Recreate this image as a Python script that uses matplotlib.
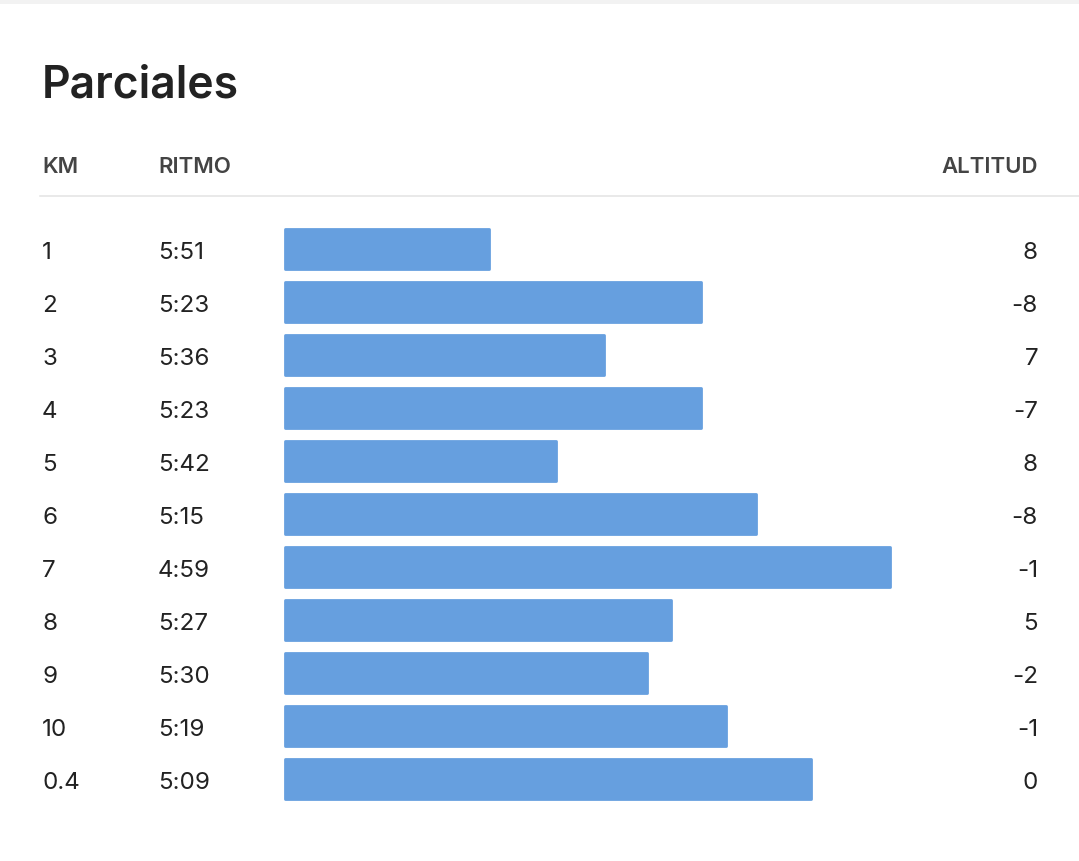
import matplotlib
matplotlib.use("Agg")
import matplotlib.pyplot as plt
from matplotlib.transforms import blended_transform_factory, ScaledTranslation
from matplotlib.patches import Rectangle
from matplotlib.lines import Line2D

plt.rcParams['font.family'] = ['Inter', 'DejaVu Sans']

# datos de los parciales
km_labels = ["1", "2", "3", "4", "5", "6", "7", "8", "9", "10", "0.4"]
ritmo = ["5:51", "5:23", "5:36", "5:23", "5:42", "5:15", "4:59", "5:27", "5:30", "5:19", "5:09"]
# longitud relativa de cada barra
barra = [206, 418, 321, 418, 273, 473, 607, 388, 364, 443, 528]
altitud = [8, -8, 7, -7, 8, -8, -1, 5, -2, -1, 0]

W, H = 1079, 862
DPI = 100
BAR_COLOR = "#669fdf"
TXT = "#222222"

fig = plt.figure(figsize=(W / DPI, H / DPI), dpi=DPI)
fig.patch.set_facecolor("white")

# franja gris de arriba
fig.patches.append(Rectangle((0, 1 - 5 / H), 1, 5 / H, transform=fig.transFigure,
                             facecolor="#f2f2f2", edgecolor="none"))

# titulo y cabeceras
fig.text(42 / W, 1 - 98 / H, "Parciales", fontsize=32, fontweight="semibold",
         color=TXT, va="baseline", ha="left")
for x, lab, ha in [(42, "KM", "left"), (158, "RITMO", "left"), (1038, "ALTITUD", "right")]:
    fig.text(x / W, 1 - 173.3 / H, lab, fontsize=16, fontweight="semibold",
             color="#444444", va="baseline", ha=ha)
fig.lines.append(Line2D([40 / W, 1], [1 - 196.5 / H] * 2, transform=fig.transFigure,
                        color="#e3e3e3", linewidth=1.1))

# eje de las barras: 1 unidad = 1 px
row_top, pitch = 250, 53
n = len(km_labels)
ax_left = 284
ax_w = W - ax_left
y0 = row_top - pitch / 2
ax_h = pitch * n
ax = fig.add_axes([ax_left / W, 1 - (y0 + ax_h) / H, ax_w / W, ax_h / H])
ax.set_xlim(0, ax_w)
ax.set_ylim(n - 0.5, -0.5)
ax.axis("off")

lw_pt = 2.0
shrink = lw_pt * DPI / 72
ax.barh(range(n), [b - shrink for b in barra], left=shrink / 2,
        height=(42 - shrink) / pitch, color=BAR_COLOR, edgecolor=BAR_COLOR,
        linewidth=lw_pt, joinstyle="round")

# textos por fila
trans = blended_transform_factory(fig.transFigure, ax.transData) + \
    ScaledTranslation(0, -9.3 / DPI, fig.dpi_scale_trans)
for i in range(n):
    ax.text(42 / W, i, km_labels[i], transform=trans, fontsize=17.4, color=TXT,
            va="baseline", ha="left")
    ax.text(158 / W, i, ritmo[i], transform=trans, fontsize=17.4, color=TXT,
            va="baseline", ha="left")
    ax.text(1038 / W, i, str(altitud[i]), transform=trans, fontsize=17.4, color=TXT,
            va="baseline", ha="right")

fig.savefig("out.png", dpi=DPI, facecolor="white")
